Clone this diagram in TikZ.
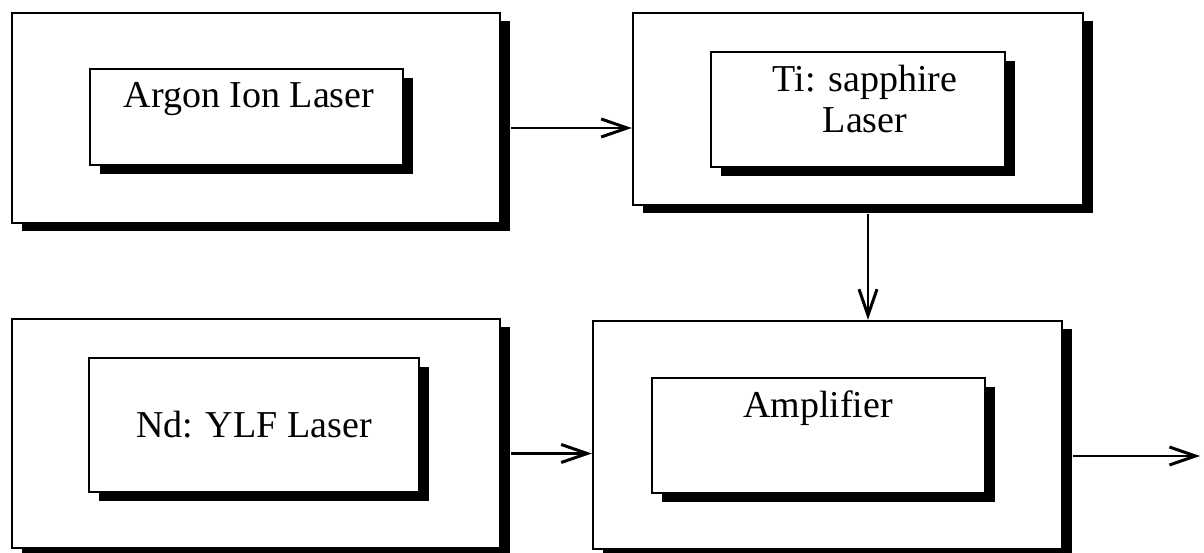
\documentclass[tikz,border=0pt]{standalone}
\usepackage{fontspec}
\setmainfont{Liberation Serif}
\usetikzlibrary{positioning,shadows,arrows.meta}

\begin{document}
\begin{tikzpicture}[
      x=1pt, y=-1pt,
      outer/.style={
        shape=rectangle,
        draw=black,
        fill=white,
        line width=2.4pt,
        inner sep=0pt,
        drop shadow={shadow xshift=10pt, shadow yshift=-8pt, fill=black, opacity=1},
      },
      inner/.style={
        shape=rectangle,
        draw=black,
        fill=white,
        line width=2.2pt,
        inner sep=0pt,
        drop shadow={shadow xshift=10pt, shadow yshift=-9pt, fill=black, opacity=1},
      },
      txt/.style={
        anchor=base,
        inner sep=0pt,
        font=\fontsize{38}{41}\selectfont,
      },
      conn/.style={
        line width=2.4pt,
        -{Straight Barb[length=26pt, width=18pt, line width=3pt]},
      }]
      \useasboundingbox (0,0) rectangle (1204,553);
      % outer frames
      \node[outer, minimum width=488pt, minimum height=210pt] (argon) at (256,118) {};
      \node[outer, minimum width=450pt, minimum height=192pt] (ti) at (858,109) {};
      \node[outer, minimum width=488pt, minimum height=229pt] (nd) at (256,433.5) {};
      \node[outer, minimum width=469pt, minimum height=228pt] (amp) at (827.5,435) {};
      % inner boxes
      \node[inner, minimum width=313pt, minimum height=96pt] (argonin) at (246.5,117) {};
      \node[inner, minimum width=294pt, minimum height=115pt] (tiin) at (858,109.5) {};
      \node[inner, minimum width=330pt, minimum height=134pt] (ndin) at (254,425) {};
      \node[inner, minimum width=333pt, minimum height=115pt] (ampin) at (818.5,435.5) {};
      % labels
      \node[txt] (argontxt) at (249,108) {Argon Ion Laser};
      \node[txt] (titxt) at (865,92) {Ti: sapphire};
      \node[txt] (titxtb) at (865,133) {Laser};
      \node[txt] (ndtxt) at (254,437) {Nd: YLF Laser};
      \node[txt] (amptxt) at (818,417) {Amplifier};
      % beams
      \coordinate (a1) at ([shift={(10,10)}]argon.east);
      \coordinate (b1) at ([shift={(10,8)}]ti.south);
      \coordinate (c1) at ([shift={(10,20)}]nd.east);
      \coordinate (d1) at ([shift={(10,21)}]amp.east);
      \coordinate (out) at (1200,456);
      \draw[conn] (a1) -- (a1 -| ti.west);
      \draw[conn] (b1) -- (b1 |- amp.north);
      \draw[conn] (c1) -- (c1 -| amp.west);
      \draw[conn] (d1) -- (out);
    \end{tikzpicture}
\end{document}
